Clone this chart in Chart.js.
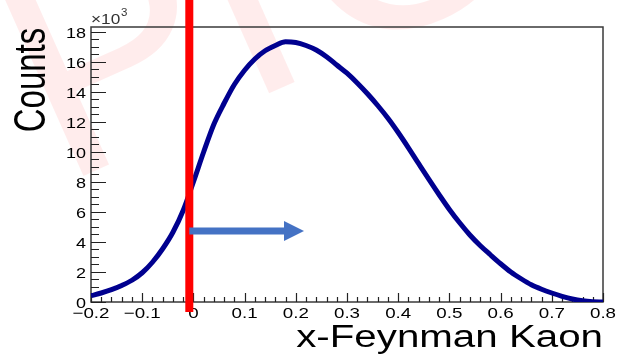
<!DOCTYPE html>
<html>
<head>
<meta charset="utf-8">
<script src="https://cdn.jsdelivr.net/npm/chart.js@4.4.0/dist/chart.umd.min.js"></script>
<style>
  html, body { margin: 0; padding: 0; background: #fff; }
  #wrap { width: 619px; height: 354px; }
</style>
</head>
<body>
<div id="wrap"><canvas id="xfChart" width="619" height="354"></canvas></div>
<script>
// x-Feynman of kaons, bin centres and counts
const xfBins = [
  -0.20, -0.18, -0.16, -0.14, -0.12, -0.10, -0.08, -0.06, -0.04, -0.02,
   0.00,  0.02,  0.04,  0.06,  0.08,  0.10,  0.12,  0.14,  0.16,  0.18,
   0.20,  0.22,  0.24,  0.26,  0.28,  0.30,  0.32,  0.34,  0.36,  0.38,
   0.40,  0.42,  0.44,  0.46,  0.48,  0.50,  0.52,  0.54,  0.56,  0.58,
   0.60,  0.62,  0.64,  0.66,  0.68,  0.70,  0.72,  0.74,  0.76,  0.78, 0.80
];
const kaonCounts = [
    420,   600,   820,  1100,  1450,  1950,  2650,  3550,  4650,  6100,
   8000, 10000, 11850, 13250, 14500, 15450, 16200, 16750, 17100, 17350,
  17300, 17100, 16800, 16350, 15800, 15250, 14600, 13880, 13100, 12250,
  11300, 10280,  9220,  8170,  7150,  6170,  5280,  4470,  3770,  3150,
   2550,  2000,  1550,  1150,   850,   600,   380,   200,    80,    20,    0
];

const xTickValues = [-0.2, -0.1, 0, 0.1, 0.2, 0.3, 0.4, 0.5, 0.6, 0.7, 0.8];
const xTickLabels = ['\u22120.2', '\u22120.1', '0', '0.1', '0.2', '0.3', '0.4', '0.5', '0.6', '0.7', '0.8'];
const yTickValues = [0, 2000, 4000, 6000, 8000, 10000, 12000, 14000, 16000, 18000];
const yTickLabels = ['0', '2', '4', '6', '8', '10', '12', '14', '16', '18'];

// xF cut and the direction of the selected region
const cutX = -0.008;
const arrowFrom = [-0.008, 4730];
const arrowTo = [0.216, 4730];

const FONT = '"Liberation Sans", Arial, Helvetica, sans-serif';

// ROOT-style text comes out a bit wide, so stretch it horizontally
function wideText(ctx, text, x, y, size, align, sx) {
  ctx.save();
  ctx.translate(x, y);
  ctx.scale(sx, 1);
  ctx.font = size + 'px ' + FONT;
  ctx.textAlign = align;
  ctx.textBaseline = 'alphabetic';
  ctx.fillText(text, 0, 0);
  ctx.restore();
}

const watermark = {
  id: 'watermark',
  beforeDraw(chart) {
    const ctx = chart.ctx;
    ctx.save();
    ctx.fillStyle = 'rgba(255, 0, 0, 0.075)';
    ctx.font = '300px ' + FONT;
    ctx.translate(61, 186);
    ctx.rotate(-24 * Math.PI / 180);
    let pos = 0;
    ['P', 'I', 'O', 'N'].forEach((ch, i) => {
      ctx.fillText(ch, pos, 0);
      pos += ctx.measureText(ch).width + (i === 1 ? 18 : 0);
    });
    ctx.restore();
  }
};

const rootFrame = {
  id: 'rootFrame',
  beforeDatasetsDraw(chart) {
    const { ctx, chartArea: a, scales: { x, y } } = chart;
    ctx.save();
    ctx.strokeStyle = '#3a3a3a';
    ctx.lineWidth = 1.5;
    ctx.strokeRect(a.left, a.top, a.right - a.left, a.bottom - a.top);

    // y ticks point into the frame, major every 2k, minor every 0.5k
    ctx.lineWidth = 1.2;
    ctx.strokeStyle = '#222';
    ctx.beginPath();
    for (let v = 0; v <= y.max; v += 500) {
      const py = Math.round(y.getPixelForValue(v)) + 0.5;
      const len = v % 2000 === 0 ? 15 : 8;
      ctx.moveTo(a.left, py);
      ctx.lineTo(a.left + len, py);
    }
    // x ticks, major every 0.1, minor every 0.02
    for (let i = 0; i <= 50; i++) {
      const px = Math.round(x.getPixelForValue(-0.2 + i * 0.02)) + 0.5;
      const len = i % 5 === 0 ? 9 : 5;
      ctx.moveTo(px, a.bottom);
      ctx.lineTo(px, a.bottom - len);
    }
    ctx.stroke();

    ctx.fillStyle = '#000';
    yTickValues.forEach((v, i) => {
      wideText(ctx, yTickLabels[i], 86, y.getPixelForValue(v) + 6, 15, 'right', 1.2);
    });
    xTickValues.forEach((v, i) => {
      wideText(ctx, xTickLabels[i], x.getPixelForValue(v), 318, 15, 'center', 1.25);
    });

    // axis exponent
    ctx.fillStyle = '#333';
    wideText(ctx, '\u00d710', 91, 24, 15, 'left', 1.15);
    wideText(ctx, '3', 121, 16, 10, 'left', 1.15);

    // axis titles
    ctx.fillStyle = '#000';
    wideText(ctx, 'x-Feynman Kaon', 603, 347, 31, 'right', 1.3);
    ctx.save();
    ctx.translate(45, 80);
    ctx.scale(1.35, 1);
    ctx.rotate(-Math.PI / 2);
    ctx.font = '33px ' + FONT;
    ctx.textAlign = 'center';
    ctx.textBaseline = 'alphabetic';
    ctx.fillText('Counts', 0, 0);
    ctx.restore();
    ctx.restore();
  }
};

const cutMarks = {
  id: 'cutMarks',
  afterDatasetsDraw(chart) {
    const { ctx, chartArea: a, scales: { x, y } } = chart;
    ctx.save();
    // red cut line, runs from the top of the canvas past the x axis
    const cx = x.getPixelForValue(cutX);
    ctx.fillStyle = '#ff0000';
    ctx.fillRect(cx - 4, 0, 8, a.bottom + 10);

    // blue arrow pointing to the accepted side
    const x0 = x.getPixelForValue(arrowFrom[0]);
    const y0 = y.getPixelForValue(arrowFrom[1]);
    const x1 = x.getPixelForValue(arrowTo[0]);
    const y1 = y.getPixelForValue(arrowTo[1]);
    const head = 20;
    ctx.strokeStyle = '#4472c4';
    ctx.fillStyle = '#4472c4';
    ctx.lineWidth = 7;
    ctx.beginPath();
    ctx.moveTo(x0, y0);
    ctx.lineTo(x1 - head + 1, y1);
    ctx.stroke();
    ctx.beginPath();
    ctx.moveTo(x1, y1);
    ctx.lineTo(x1 - head, y1 - 10);
    ctx.lineTo(x1 - head, y1 + 10);
    ctx.closePath();
    ctx.fill();
    ctx.restore();
  }
};

new Chart(document.getElementById('xfChart'), {
  type: 'line',
  data: {
    datasets: [{
      label: 'Kaon',
      data: xfBins.map((v, i) => ({ x: v, y: kaonCounts[i] })),
      borderColor: '#00008f',
      borderWidth: 5,
      pointRadius: 0,
      cubicInterpolationMode: 'monotone',
      fill: false
    }]
  },
  options: {
    responsive: false,
    animation: false,
    devicePixelRatio: 1,
    events: [],
    layout: { padding: { left: 91, right: 16, top: 27, bottom: 52 } },
    plugins: { legend: { display: false }, tooltip: { enabled: false } },
    scales: {
      x: { type: 'linear', min: -0.2, max: 0.8, display: false },
      y: { type: 'linear', min: 0, max: 18333, display: false }
    }
  },
  plugins: [watermark, rootFrame, cutMarks]
});
</script>
</body>
</html>
